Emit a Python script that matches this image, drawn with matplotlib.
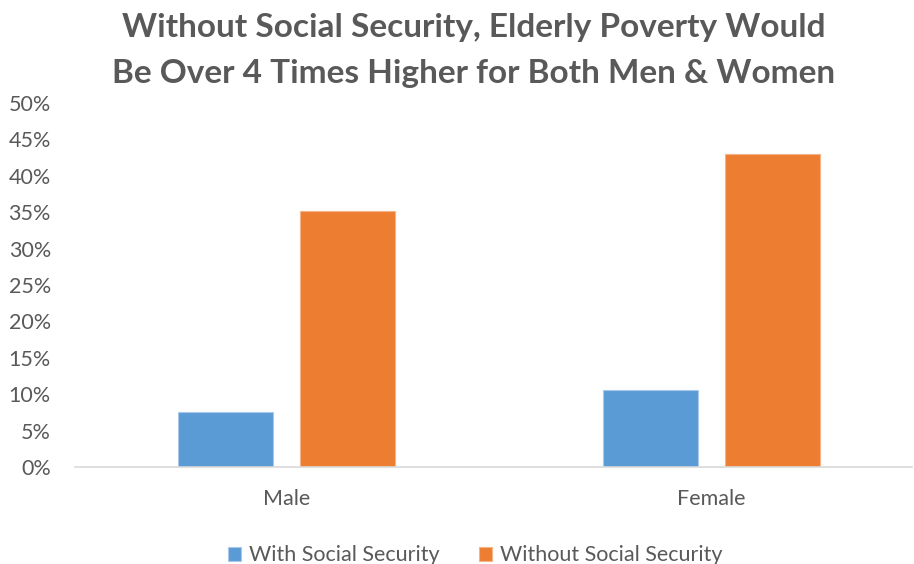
import matplotlib
matplotlib.use("Agg")
import matplotlib.pyplot as plt
from matplotlib.ticker import FuncFormatter
import numpy as np

categories = ["Male", "Female"]
with_ss = [7.55, 10.6]
without_ss = [35.2, 43.0]
series_names = ["With Social Security", "Without Social Security"]
title_lines = ["Without Social Security, Elderly Poverty Would",
               "Be Over 4 Times Higher for Both Men & Women"]

plt.rcParams["font.family"] = ["Lato", "DejaVu Sans"]
grey = "#595959"

fig = plt.figure(figsize=(9.14, 5.64), dpi=100)
ax = fig.add_axes([74.5 / 914, 1 - 467 / 564, 837.5 / 914, 364 / 564])

x = np.arange(len(categories))
w = 0.224
off = 0.144
ax.bar(x - off, with_ss, w, color="#5b9bd5", edgecolor="#a9c8ea", linewidth=0.8, label=series_names[0])
ax.bar(x + off, without_ss, w, color="#ed7d31", edgecolor="#f4b48a", linewidth=0.8, label=series_names[1])

ax.set_xlim(-0.5, 1.473)
ax.set_ylim(0, 50)
ax.set_yticks(np.arange(0, 51, 5))
ax.yaxis.set_major_formatter(FuncFormatter(lambda v, p: f"{v:.0f}%"))
ax.set_xticks(x)
ax.set_xticklabels(categories)
ax.tick_params(axis="both", length=0, labelsize=15.5, colors=grey)
ax.tick_params(axis="y", pad=17)
ax.tick_params(axis="x", pad=16)
for s in ["top", "right", "left"]:
    ax.spines[s].set_visible(False)
ax.spines["bottom"].set_color("#d9d9d9")
ax.spines["bottom"].set_linewidth(1.2)

# two title lines placed on their own baselines
for line, ypix in zip(title_lines, [37, 83]):
    fig.text(0.518, 1 - ypix / 564, line, ha="center", va="baseline",
             fontsize=24, fontweight="bold", color=grey)

leg = fig.legend(loc="lower center", bbox_to_anchor=(0.52, -0.037), ncol=2, frameon=False,
                 fontsize=15.5, handlelength=0.6, handleheight=0.6, columnspacing=1.8, handletextpad=0.4)
for t in leg.get_texts():
    t.set_color(grey)

fig.savefig("out.png", dpi=100)
